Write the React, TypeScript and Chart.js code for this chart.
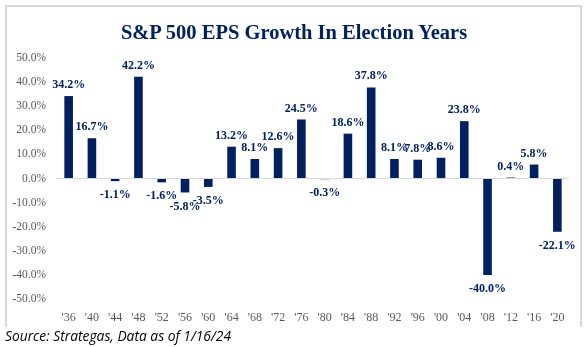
import React, { useEffect, useRef } from "react";
import { Chart, registerables } from "chart.js";

Chart.register(...registerables);

const categories = ["'36", "'40", "'44", "'48", "'52", "'56", "'60", "'64", "'68", "'72", "'76", "'80", "'84", "'88", "'92", "'96", "'00", "'04", "'08", "'12", "'16", "'20"];
const epsGrowth = [34.2, 16.7, -1.1, 42.2, -1.6, -5.8, -3.5, 13.2, 8.1, 12.6, 24.5, -0.3, 18.6, 37.8, 8.1, 7.8, 8.6, 23.8, -40.0, 0.4, 5.8, -22.1];
const yMin = -50;
const yMax = 50;
const yStep = 10;
const titleText = "S&P 500 EPS Growth In Election Years";
const sourceText = "Source: Strategas, Data as of 1/16/24";

const NAVY = "#002060";
const SERIF = "'Liberation Serif', 'Times New Roman', serif";

const labelPlugin = {
  id: "barLabels",
  afterDatasetsDraw(chart: any) {
    const ctx = chart.ctx;
    const meta = chart.getDatasetMeta(0);
    const data = chart.data.datasets[0].data as number[];
    ctx.save();
    ctx.font = `bold 12px ${SERIF}`;
    ctx.fillStyle = NAVY;
    ctx.textAlign = "center";
    meta.data.forEach((bar: any, i: number) => {
      const v = data[i];
      const txt = `${v.toFixed(1)}%`;
      if (v >= 0) {
        ctx.textBaseline = "bottom";
        ctx.fillText(txt, bar.x, bar.y - 5);
      } else {
        ctx.textBaseline = "top";
        ctx.fillText(txt, bar.x, bar.y + 8);
      }
    });
    ctx.restore();
  },
};

export default function App() {
  const ref = useRef<HTMLCanvasElement | null>(null);

  useEffect(() => {
    if (!ref.current) return;
    const chart = new Chart(ref.current, {
      type: "bar",
      data: {
        labels: categories,
        datasets: [
          {
            data: epsGrowth,
            backgroundColor: NAVY,
            borderWidth: 0,
            barPercentage: 0.37,
            categoryPercentage: 1,
          },
        ],
      },
      options: {
        responsive: false,
        animation: false,
        layout: { padding: { top: 58, left: 8, right: 18, bottom: 18 } },
        plugins: {
          legend: { display: false },
          tooltip: { enabled: false },
          title: { display: false },
        },
        scales: {
          x: {
            grid: { display: false, drawTicks: false },
            border: { display: false },
            ticks: {
              color: "#595959",
              font: { family: SERIF, size: 12 },
              padding: 12,
              maxRotation: 0,
              autoSkip: false,
            },
            afterFit(scale: any) {
              scale.height = 30;
            },
          },
          y: {
            min: yMin,
            max: yMax,
            grid: {
              drawTicks: false,
              color: (c: any) => (c.tick && c.tick.value === 0 ? "#d9d9d9" : "rgba(0,0,0,0)"),
              lineWidth: 1,
            },
            border: { display: false },
            ticks: {
              stepSize: yStep,
              color: "#595959",
              font: { family: SERIF, size: 11.5 },
              padding: 11,
              callback: (v: any) => `${Number(v).toFixed(1)}%`,
            },
            afterFit(scale: any) {
              scale.width = 49;
            },
          },
        },
      },
      plugins: [labelPlugin],
    });
    return () => chart.destroy();
  }, []);

  return (
    <div style={{ position: "fixed", left: 0, top: 0, width: 587, height: 347, background: "#fff", overflow: "hidden" }}>
      <div
        style={{
          position: "absolute",
          left: 5,
          top: 5,
          width: 577,
          height: 322,
          boxSizing: "border-box",
          borderLeft: "2px solid #d9d9d9",
          borderTop: "2px solid #d9d9d9",
          borderRight: "2px solid #d9d9d9",
        }}
      />
      <canvas ref={ref} width={587} height={347} style={{ position: "absolute", left: 0, top: 0, width: 587, height: 347 }} />
      <div
        style={{
          position: "absolute",
          left: 0,
          width: 588,
          top: 19,
          textAlign: "center",
          fontFamily: SERIF,
          fontWeight: "bold",
          fontSize: 20.5,
          lineHeight: "26px",
          color: NAVY,
          whiteSpace: "nowrap",
        }}
      >
        {titleText}
      </div>
      <div
        style={{
          position: "absolute",
          left: 5,
          top: 327,
          fontFamily: "'Open Sans', sans-serif",
          fontStyle: "italic",
          fontSize: 13.8,
          lineHeight: "18px",
          color: "#000",
          whiteSpace: "nowrap",
        }}
      >
        {sourceText}
      </div>
    </div>
  );
}
